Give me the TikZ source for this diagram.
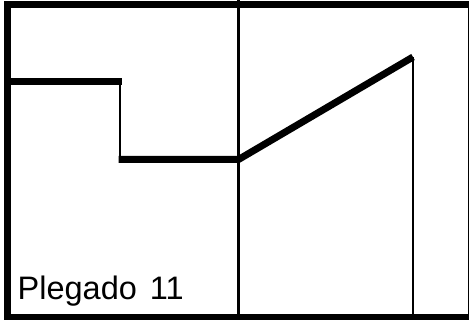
\documentclass[tikz,border=0pt]{standalone}
\usepackage{fontspec}
\setmainfont{Liberation Sans}
\begin{document}
\begin{tikzpicture}[x=1pt,y=-1pt,
  frame/.style={line width=7pt},
  thickline/.style={line width=7pt,line cap=butt,line join=miter},
  thinline/.style={line width=2.6pt},
  label/.style={inner sep=0pt,anchor=base west,font=\fontsize{32.5}{40}\selectfont}]
\useasboundingbox (0,0) rectangle (469,320);
\clip (0,0) rectangle (469,320);
\coordinate (a) at (7,81.5);
\coordinate (b) at (121.5,81.5);
\coordinate (c) at (120,159.5);
\coordinate (d) at (238.5,159.5);
\coordinate (e) at (413,57);
\coordinate (eb) at (413,320);
\coordinate (dt) at (238.5,0);
\coordinate (db) at (238.5,320);
\draw[frame] (7,4.5) rectangle (471.5,318);
\draw[thinline] (dt) -- (db);
\draw[thinline] (120,81.5) -- (c);
\draw[thinline] (e) -- (eb);
\draw[thickline] (a) -- (b);
\draw[thickline] (118.7,159.5) -- (d) -- (e);
\node[label] (t) at (17.5,300) {Plegado\hspace{4pt} 11};
\end{tikzpicture}
\end{document}
